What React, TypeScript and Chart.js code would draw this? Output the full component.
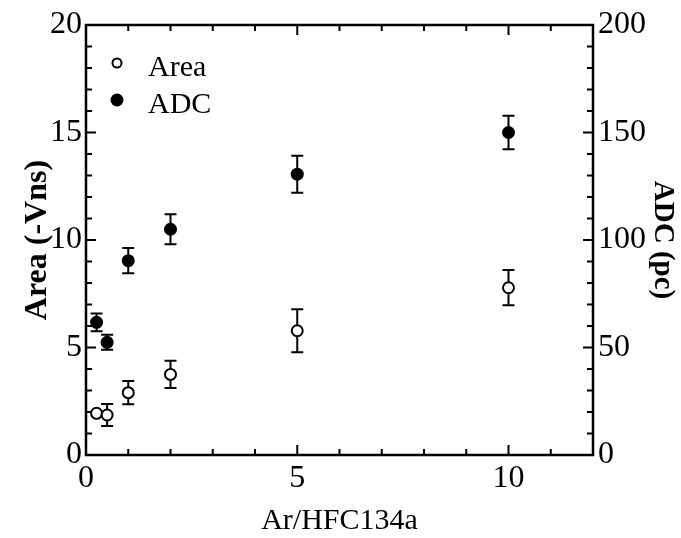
import React, { useEffect, useRef } from "react";
import { Chart, registerables } from "chart.js";
Chart.register(...registerables);

const ratios = [0.25, 0.5, 1, 2, 5, 10];
const areaValues = [1.94, 1.86, 2.9, 3.75, 5.78, 7.78];
const areaErrors = [0, 0.51, 0.54, 0.63, 1.0, 0.82];
const adcValues = [61.7, 52.4, 90.4, 105, 130.6, 150];
const adcErrors = [4.1, 3.5, 5.9, 7.0, 8.6, 7.8];
const xTickValues = [0, 5, 10];
const areaTickValues = [0, 5, 10, 15, 20];
const adcTickValues = [0, 50, 100, 150, 200];

const FONT = "'Liberation Serif', 'Times New Roman', serif";

const errorBarPlugin = {
  id: "errorBars",
  beforeDatasetsDraw(chart: any) {
    const ctx = chart.ctx;
    const xs = chart.scales.x;
    chart.data.datasets.forEach((ds: any) => {
      const ys = chart.scales[ds.yAxisID];
      const errs: number[] = ds.errors || [];
      ctx.save();
      ctx.strokeStyle = "#000";
      ctx.lineWidth = 2;
      ds.data.forEach((p: any, j: number) => {
        const e = errs[j];
        if (!e) return;
        const x = xs.getPixelForValue(p.x);
        const y1 = ys.getPixelForValue(p.y + e);
        const y2 = ys.getPixelForValue(p.y - e);
        ctx.beginPath();
        ctx.moveTo(x, y1);
        ctx.lineTo(x, y2);
        ctx.moveTo(x - 6, y1);
        ctx.lineTo(x + 6, y1);
        ctx.moveTo(x - 6, y2);
        ctx.lineTo(x + 6, y2);
        ctx.stroke();
      });
      ctx.restore();
    });
  },
};

const framePlugin = {
  id: "frame",
  afterDraw(chart: any) {
    const ctx = chart.ctx;
    const { left, right, top, bottom } = chart.chartArea;
    const xs = chart.scales.x;
    const yl = chart.scales.yArea;
    const yr = chart.scales.yAdc;
    ctx.save();
    ctx.strokeStyle = "#000";
    ctx.lineWidth = 2.5;
    ctx.strokeRect(left, top, right - left, bottom - top);
    ctx.lineWidth = 2;
    ctx.beginPath();
    for (let v = 1; v < 12; v++) {
      const len = v % 5 === 0 ? 10 : 6;
      const x = xs.getPixelForValue(v);
      ctx.moveTo(x, bottom);
      ctx.lineTo(x, bottom - len);
      ctx.moveTo(x, top);
      ctx.lineTo(x, top + len);
    }
    for (let v = 1; v < 20; v++) {
      const len = v % 5 === 0 ? 10 : 6;
      const y = yl.getPixelForValue(v);
      ctx.moveTo(left, y);
      ctx.lineTo(left + len, y);
    }
    for (let v = 10; v < 200; v += 10) {
      const len = v % 50 === 0 ? 10 : 6;
      const y = yr.getPixelForValue(v);
      ctx.moveTo(right, y);
      ctx.lineTo(right - len, y);
    }
    ctx.stroke();
    ctx.restore();
  },
};

const legendPlugin = {
  id: "insideLegend",
  afterDraw(chart: any) {
    const ctx = chart.ctx;
    const { left, top } = chart.chartArea;
    ctx.save();
    chart.data.datasets.forEach((ds: any, i: number) => {
      const mx = left + 31;
      const my = top + 38 + i * 37;
      ctx.beginPath();
      ctx.arc(mx, my, ds.legendRadius, 0, Math.PI * 2);
      ctx.fillStyle = ds.backgroundColor;
      ctx.fill();
      if (ds.borderWidth) {
        ctx.lineWidth = ds.borderWidth;
        ctx.strokeStyle = ds.borderColor;
        ctx.stroke();
      }
      ctx.fillStyle = "#000";
      ctx.font = `30px ${FONT}`;
      ctx.textAlign = "left";
      ctx.textBaseline = "alphabetic";
      ctx.fillText(ds.label, left + 62, my + 13);
    });
    ctx.restore();
  },
};

export default function App() {
  const ref = useRef<HTMLCanvasElement>(null);
  useEffect(() => {
    if (!ref.current) return;
    const chart = new Chart(ref.current, {
      type: "scatter",
      data: {
        datasets: [
          {
            label: "Area",
            data: ratios.map((x, i) => ({ x, y: areaValues[i] })),
            errors: areaErrors,
            yAxisID: "yArea",
            pointRadius: 5.5,
            pointHoverRadius: 5.5,
            borderWidth: 2,
            borderColor: "#000",
            backgroundColor: "#fff",
            legendRadius: 4.5,
          } as any,
          {
            label: "ADC",
            data: ratios.map((x, i) => ({ x, y: adcValues[i] })),
            errors: adcErrors,
            yAxisID: "yAdc",
            pointRadius: 6.5,
            pointHoverRadius: 6.5,
            borderWidth: 0,
            borderColor: "#000",
            backgroundColor: "#000",
            legendRadius: 6.5,
          } as any,
        ],
      },
      options: {
        animation: false,
        responsive: false,
        events: [],
        layout: { padding: { top: 25, left: 0, right: 0, bottom: 0 } },
        plugins: { legend: { display: false }, tooltip: { enabled: false } },
        scales: {
          x: {
            type: "linear",
            min: 0,
            max: 12,
            grid: { display: false, drawTicks: false },
            border: { display: false },
            afterBuildTicks: (s: any) => {
              s.ticks = xTickValues.map((v) => ({ value: v }));
            },
            afterFit: (s: any) => {
              s.height = 83;
            },
            ticks: {
              padding: 4,
              color: "#000",
              font: { family: FONT, size: 32 },
              maxRotation: 0,
              autoSkip: false,
            },
            title: {
              display: true,
              text: "Ar/HFC134a",
              color: "#000",
              font: { family: FONT, size: 30, lineHeight: 1.1 },
              padding: { top: 0, bottom: 0 },
            },
          },
          yArea: {
            type: "linear",
            position: "left",
            min: 0,
            max: 20,
            grid: { display: false, drawTicks: false },
            border: { display: false },
            afterBuildTicks: (s: any) => {
              s.ticks = areaTickValues.map((v) => ({ value: v }));
            },
            afterFit: (s: any) => {
              s.width = 86;
            },
            ticks: {
              padding: 4,
              color: "#000",
              font: { family: FONT, size: 32 },
              autoSkip: false,
            },
            title: {
              display: true,
              text: "Area (-Vns)",
              color: "#000",
              font: { family: FONT, size: 32, weight: "bold", lineHeight: 1.2 },
              padding: { top: 19, bottom: 0 },
            },
          },
          yAdc: {
            type: "linear",
            position: "right",
            min: 0,
            max: 200,
            grid: { display: false, drawTicks: false },
            border: { display: false },
            afterBuildTicks: (s: any) => {
              s.ticks = adcTickValues.map((v) => ({ value: v }));
            },
            afterFit: (s: any) => {
              s.width = 88;
            },
            ticks: {
              padding: 5,
              color: "#000",
              font: { family: FONT, size: 32 },
              autoSkip: false,
            },
            title: {
              display: true,
              text: "ADC (pc)",
              color: "#000",
              font: { family: FONT, size: 29, weight: "bold", lineHeight: 1.2 },
              padding: { top: 1, bottom: 0 },
            },
          },
        },
      } as any,
      plugins: [errorBarPlugin, framePlugin, legendPlugin],
    });
    return () => chart.destroy();
  }, []);
  return (
    <div style={{ position: "fixed", left: 0, top: 0, width: 681, height: 538, background: "#fff" }}>
      <canvas ref={ref} width={681} height={538} />
    </div>
  );
}
